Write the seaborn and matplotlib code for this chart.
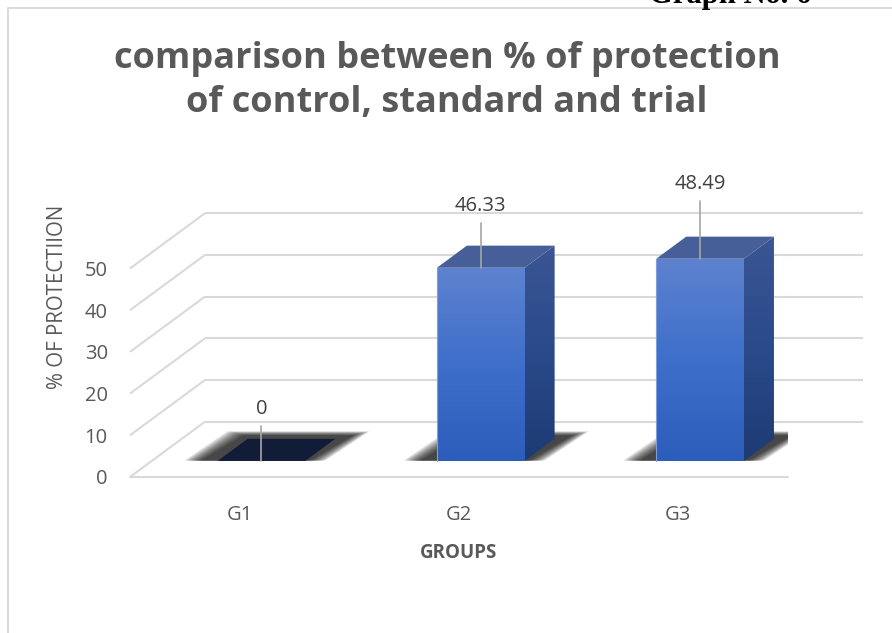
import numpy as np
import matplotlib
matplotlib.use("Agg")
import matplotlib.pyplot as plt
import seaborn as sns
from matplotlib.patches import Polygon
from matplotlib.colors import LinearSegmentedColormap

# ---- data ----
groups = ["G1", "G2", "G3"]
protection = [0, 46.33, 48.49]
yticks = [0, 10, 20, 30, 40, 50]
label_texts = ["0", "46.33", "48.49"]

# ---- style ----
W, H, DPI = 892, 633, 100
PX_PER_UNIT = 4.17
AX_LEFT, AX_RIGHT, AX_BOTTOM, AX_TOP = 130, 788, 477, 160
SLOT_PX = (AX_RIGHT - AX_LEFT) / 3.0
DX = 75 / SLOT_PX          # depth offset (x, category units)
DY = 55.3 / PX_PER_UNIT    # depth offset (y, value units)
F0, F1 = 0.29, 0.69        # bar depth front/back fractions
GRID = "#d9d9d9"
TXT = "#595959"
label_px_above = [52, 62, 75]   # label offset above bar top (px)

sns.set_theme(style="white")
plt.rcParams["font.family"] = ["Open Sans", "DejaVu Sans"]

fig = plt.figure(figsize=(W / DPI, H / DPI), dpi=DPI)
ax = fig.add_axes([AX_LEFT / W, 1 - AX_BOTTOM / H,
                   (AX_RIGHT - AX_LEFT) / W, (AX_BOTTOM - AX_TOP) / H])
ymax = (AX_BOTTOM - AX_TOP) / PX_PER_UNIT

sns.barplot(x=groups, y=protection, width=0.4, color="#4472c4",
            ax=ax, zorder=5, saturation=1)
ax.set_xlim(-0.5, 2.5)
ax.set_ylim(0, ymax)
for s in ax.spines.values():
    s.set_visible(False)

# grid: front diagonals + back wall lines
for v in yticks:
    ax.plot([-0.5, -0.5 + DX], [v, v + DY], color=GRID, lw=1.5, zorder=1,
            clip_on=False, solid_capstyle="butt")
    ax.plot([-0.5 + DX, 2.5 + DX], [v + DY, v + DY], color=GRID, lw=1.5,
            zorder=1, clip_on=False, solid_capstyle="butt")
ax.plot([-0.5, 2.5], [0, 0], color=GRID, lw=1.5, zorder=1, clip_on=False)

front_cmap = LinearSegmentedColormap.from_list("f", ["#2d5dba", "#3e6fcb", "#5e82cf"])
side_cmap = LinearSegmentedColormap.from_list("s", ["#1d3a73", "#2a4a8a", "#3b5594"])
top_colors = ["#111d38", "#465f98", "#465f98"]

dd = F1 - F0
px_x = 1.0 / SLOT_PX
px_y = 1.0 / PX_PER_UNIT
for i, p in enumerate(ax.patches):
    x0 = p.get_x()
    w = p.get_width()
    h = p.get_height()
    x0s = x0 + F0 * DX
    yb = F0 * DY
    p.set_x(x0s)
    p.set_y(yb)
    x1s = x0s + w
    yt = yb + h
    # shadow on floor (blurred layers)
    for k in range(9):
        e = (9 - k) * 2.0
        ex, ey = e * px_x, e * px_y * 0.25
        sh = Polygon([(x0s - 15 * px_x - ex, yb + ey * 0.1),
                      (x1s + 2 * px_x + ex, yb + ey * 0.1),
                      (x1s + dd * DX + 16 * px_x + ex, yb + dd * DY + 3 * px_y + ey),
                      (x0s + dd * DX - 2 * px_x - ex, yb + dd * DY + 3 * px_y + ey)],
                     closed=True, facecolor="#000000", alpha=0.13, lw=0, zorder=2)
        ax.add_patch(sh)
    if h > 0:
        p.set_facecolor("none")
        p.set_edgecolor("none")
        grad = np.linspace(0, 1, 256).reshape(-1, 1)
        im = ax.imshow(grad, extent=[x0s, x1s, yb, yt], origin="lower",
                       cmap=front_cmap, aspect="auto", zorder=5)
        im.set_clip_path(p)
        side = Polygon([(x1s, yb), (x1s + dd * DX, yb + dd * DY),
                        (x1s + dd * DX, yt + dd * DY), (x1s, yt)],
                       closed=True, facecolor="none", lw=0, zorder=5)
        ax.add_patch(side)
        im2 = ax.imshow(grad, extent=[x1s, x1s + dd * DX, yb, yt + dd * DY],
                        origin="lower", cmap=side_cmap, aspect="auto", zorder=5)
        im2.set_clip_path(side)
        ax.plot([x0s, x0s], [yb, yt], color="#7f9ede", lw=0.8, zorder=6)
    top = Polygon([(x0s, yt), (x1s, yt), (x1s + dd * DX, yt + dd * DY),
                   (x0s + dd * DX, yt + dd * DY)], closed=True,
                  facecolor=top_colors[i], edgecolor="none", zorder=6)
    ax.add_patch(top)
    # leader line + label
    cx = x0s + w / 2
    ly = yt + label_px_above[i] * px_y
    ax.plot([cx, cx], [yt, ly - 17 * px_y], color="#a6a6a6", lw=1.2, zorder=7,
            clip_on=False)
    ax.text(cx, ly, label_texts[i], ha="center", va="center", fontsize=14.5,
            color="#404040", zorder=8, clip_on=False)

ax.set_xlim(-0.5, 2.5)
ax.set_ylim(0, ymax)

ax.set_yticks(yticks)
ax.set_yticklabels([str(v) for v in yticks], fontsize=14.5, color=TXT)
ax.tick_params(axis="y", length=0, pad=16)
ax.tick_params(axis="x", length=0, pad=20, labelsize=14.5, labelcolor=TXT)
ax.set_xlabel("GROUPS", fontsize=13.5, fontweight="bold", color=TXT, labelpad=13)
ax.set_ylabel("% OF PROTECTIION", fontsize=14.8, color=TXT)
ax.yaxis.set_label_coords((68 - AX_LEFT) / (AX_RIGHT - AX_LEFT),
                          (AX_BOTTOM - 297) / (AX_BOTTOM - AX_TOP))
ax.grid(False)

fig.text(447 / W, 1 - 81 / H,
         "comparison between % of protection\nof control, standard and trial",
         ha="center", va="center", fontsize=26, fontweight="bold", color=TXT,
         linespacing=1.33)

# page frame and cut-off header
fig.add_artist(plt.Line2D([8 / W, 1], [1 - 8 / H, 1 - 8 / H], color="#d4d4d4", lw=1.2))
fig.add_artist(plt.Line2D([8 / W, 8 / W], [0, 1 - 8 / H], color="#d4d4d4", lw=1.2))
fig.text(730 / W, 1 - 3 / H, "Graph No. 6", ha="center", va="baseline",
         fontsize=22, fontweight="bold", color="black",
         family=["Liberation Serif", "DejaVu Serif"])

fig.savefig("out.png", dpi=DPI, facecolor="white")
